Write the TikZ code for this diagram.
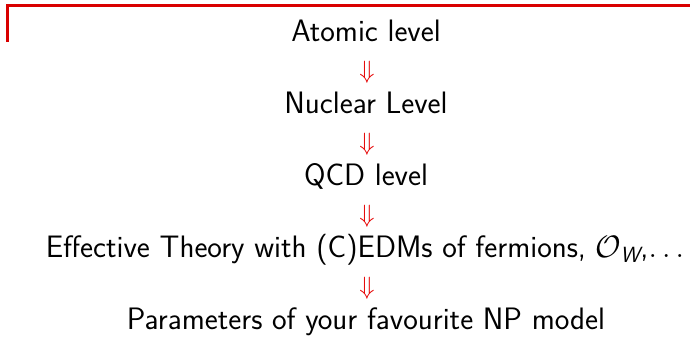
\RequirePackage{fix-cm}
\documentclass[tikz,border=0pt]{standalone}
\usepackage{fontspec}
\begin{document}
\begin{tikzpicture}[x=1pt,y=-1pt,
  lvl/.style={font=\fontsize{31}{36}\selectfont\sffamily, inner sep=0pt, anchor=base},
  darr/.style={text=red!90!black, inner sep=0pt, font=\fontsize{25}{30}\selectfont, anchor=base}]
\useasboundingbox (0,0) rectangle (691,352);
\draw[red!85!black, line width=3pt] (7,42) -- (7,5.5) -- (690,5.5);
\node[lvl] (a) at (366,42) {Atomic level};
\node[darr] (d1) at (367,79) {$\Downarrow$};
\node[lvl] (b) at (366,114) {Nuclear Level};
\node[darr] (d2) at (367,151) {$\Downarrow$};
\node[lvl] (c) at (366,186) {QCD level};
\node[darr] (d3) at (367,223) {$\Downarrow$};
\node[lvl] (e) at (365,258) {Effective Theory with (C)EDMs of fermions, $\mathcal{O}_{\mbox{\fontsize{22}{26}\selectfont\sffamily\itshape W}}$,$\ldots$};
\node[darr] (d4) at (367,295) {$\Downarrow$};
\node[lvl] (f) at (366,330) {Parameters of your favourite NP model};
\end{tikzpicture}
\end{document}
